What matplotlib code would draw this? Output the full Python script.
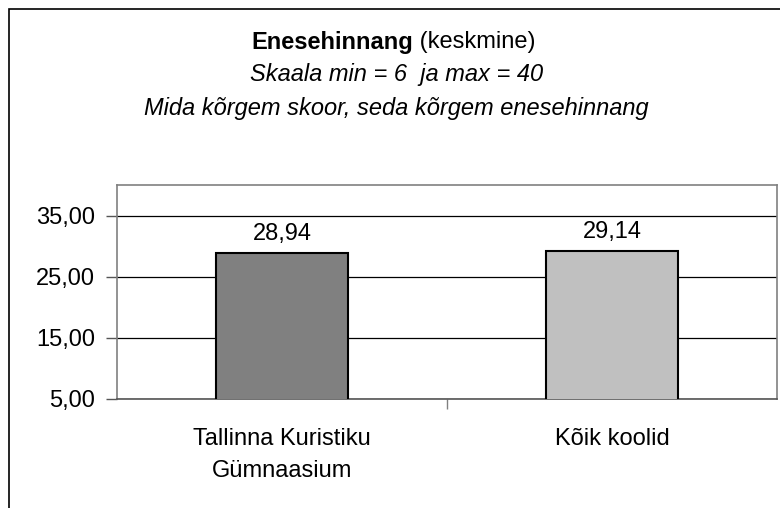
import matplotlib.pyplot as plt
from matplotlib.patches import Rectangle

categories = ["Tallinna Kuristiku\nGümnaasium", "Kõik koolid"]
values = [28.94, 29.14]
colors = ["#808080", "#C0C0C0"]
yticks = [5, 15, 25, 35]

plt.rcParams['font.family'] = ['Liberation Sans', 'DejaVu Sans']
fs = 17

fig = plt.figure(figsize=(7.8, 5.08), dpi=100)
W, H = 780, 508

# outer frame of the chart (cut off at right and bottom)
fig.patches.append(Rectangle((9 / W, -0.1), 1.2, 1 - 9 / H + 0.1, transform=fig.transFigure,
                             fill=False, edgecolor="black", linewidth=1.2))

ax = fig.add_axes([117 / W, 1 - 399 / H, 660 / W, 214 / H])
x = range(len(values))
ax.bar(x, values, width=0.4, bottom=0, color=colors, edgecolor="black", linewidth=1.5, zorder=3)
ax.set_xlim(-0.5, 1.5)
ax.set_ylim(5, 40)
ax.set_yticks(yticks)
ax.set_yticklabels([f"{v:.2f}".replace(".", ",") for v in yticks], fontsize=fs)
ax.yaxis.grid(True, color="black", linewidth=0.9)
ax.set_axisbelow(True)
ax.set_xticks([0.5])
ax.set_xticklabels([""])
ax.tick_params(axis="y", length=8, width=1, color="#555555", pad=8)
ax.tick_params(axis="x", length=7, width=1, color="#808080")
for s in ax.spines.values():
    s.set_color("#808080")
    s.set_linewidth(1.2)
ax.spines["bottom"].set_color("#555555")

for i, v in enumerate(values):
    ax.text(i, v + 1.3, f"{v:.2f}".replace(".", ","), ha="center", va="bottom", fontsize=fs)
    ax.annotate(categories[i], (i, 5), xytext=(0, -21), textcoords="offset points",
                ha="center", va="top", fontsize=fs, linespacing=1.6)

fig.text(0.53, 1 - 42 / H, "Enesehinnang", ha="right", va="center", fontsize=fs,
         fontweight="bold")
fig.text(0.53, 1 - 42 / H, " (keskmine)", ha="left", va="center", fontsize=fs)
fig.text(0.508, 1 - 75 / H, "Skaala min = 6  ja max = 40", ha="center", va="center",
         fontsize=fs, style="italic")
fig.text(0.508, 1 - 108 / H, "Mida kõrgem skoor, seda kõrgem enesehinnang", ha="center",
         va="center", fontsize=fs, style="italic")

fig.savefig("out.png", dpi=100)
